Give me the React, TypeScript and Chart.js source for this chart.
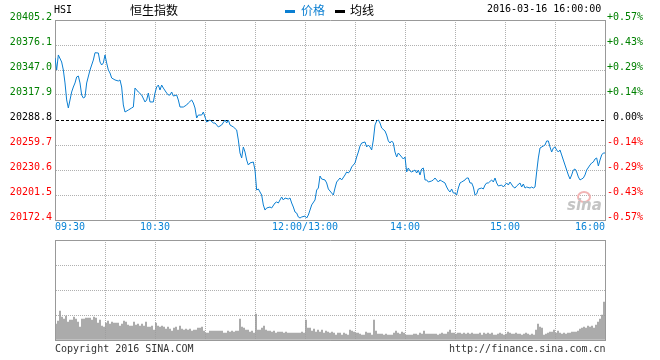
import React, { useEffect, useRef } from 'react';
import { Chart, registerables } from 'chart.js';

Chart.register(...registerables);

// ---------- data ----------
const prevClose = 20288.8;
const priceMin = 20172.4;
const priceMax = 20405.2;
const priceTicks = [20405.2, 20376.1, 20347.0, 20317.9, 20288.8, 20259.7, 20230.6, 20201.5, 20172.4];
const pctTickLabels = ['+0.57%', '+0.43%', '+0.29%', '+0.14%', '0.00%', '-0.14%', '-0.29%', '-0.43%', '-0.57%'];
const timeTickMinutes = [0, 60, 150, 210, 270, 330];
const timeTickLabels = ['09:30', '10:30', '12:00/13:00', '14:00', '15:00', '16:00'];
const gridMinutes = [0, 30, 60, 90, 120, 150, 180, 210, 240, 270, 300, 330];

// minutes since 09:30 (lunch break removed), and index value
const minutes = [
  0, 1, 2, 4, 5, 6, 7, 8, 9, 10, 11, 12, 13, 14, 15, 16, 17, 18, 19, 21, 22, 23, 24, 26, 27, 28, 29, 30,
  31, 32, 33, 34, 36, 38, 39, 40, 41, 42, 44, 46, 47, 48, 50, 52, 54, 55, 56, 57, 59, 60, 61, 62, 63, 64,
  65, 67, 68, 69, 70, 71, 73, 74, 75, 77, 79, 80, 82, 83, 84, 85, 86, 88, 89, 90, 91, 93, 95, 96, 98, 100,
  102, 103, 104, 105, 107, 109, 110, 111, 112, 113, 114, 115, 116, 117, 119, 120, 121, 122, 123, 124, 125,
  126, 127, 129, 130, 132, 133, 134, 136, 137, 138, 140, 141, 142, 143, 144, 145, 146, 147, 148, 150, 151,
  152, 153, 154, 156, 157, 158, 159, 160, 162, 163, 164, 166, 167, 168, 169, 171, 172, 174, 175, 176, 177,
  178, 180, 181, 182, 183, 184, 186, 187, 188, 189, 190, 191, 192, 193, 194, 195, 196, 198, 199, 200, 201,
  202, 203, 204, 205, 206, 208, 209, 210, 211, 212, 213, 214, 216, 217, 218, 219, 220, 221, 222, 223, 224,
  226, 227, 228, 230, 231, 232, 234, 235, 236, 237, 238, 239, 240, 241, 242, 243, 244, 246, 247, 248, 249,
  250, 251, 252, 253, 254, 256, 257, 258, 259, 260, 262, 263, 264, 265, 266, 268, 269, 271, 272, 273, 275,
  276, 277, 279, 280, 281, 282, 283, 285, 286, 287, 288, 289, 290, 291, 293, 294, 295, 296, 297, 298, 299,
  300, 301, 302, 303, 304, 305, 306, 307, 308, 309, 310, 311, 312, 313, 314, 315, 316, 317, 318, 319, 321,
  322, 323, 324, 325, 326, 327, 328, 329, 330,
];
const prices = [
  20361.0, 20347.0, 20364.5, 20356.3, 20347.0, 20331.9, 20312.1, 20302.8, 20312.1, 20321.4, 20327.2, 20331.9,
  20338.9, 20340.0, 20331.9, 20317.9, 20314.4, 20315.6, 20331.9, 20347.0, 20352.8, 20358.6, 20367.1, 20366.8,
  20356.3, 20352.8, 20355.2, 20364.5, 20355.2, 20347.0, 20343.5, 20337.7, 20335.4, 20334.2, 20335.4, 20327.2,
  20306.3, 20298.1, 20300.4, 20302.8, 20303.9, 20326.0, 20321.4, 20317.9, 20309.8, 20312.1, 20320.2, 20309.8,
  20309.8, 20320.2, 20327.2, 20329.5, 20323.7, 20329.5, 20326.0, 20320.2, 20317.9, 20317.9, 20321.4, 20316.7,
  20317.9, 20312.1, 20303.9, 20303.9, 20306.3, 20308.6, 20312.1, 20308.6, 20302.8, 20291.1, 20294.6, 20294.6,
  20298.1, 20292.3, 20286.5, 20288.8, 20285.3, 20285.3, 20280.7, 20283.0, 20288.8, 20285.3, 20288.8, 20283.0,
  20280.7, 20277.2, 20265.5, 20250.4, 20244.6, 20257.4, 20251.5, 20242.2, 20236.4, 20238.8, 20239.9, 20230.6,
  20207.3, 20208.5, 20205.0, 20201.5, 20189.9, 20184.0, 20186.4, 20187.5, 20186.4, 20192.2, 20193.4, 20192.2,
  20199.2, 20195.7, 20198.0, 20196.8, 20198.0, 20192.2, 20187.5, 20181.7, 20180.5, 20175.9, 20174.7, 20175.9,
  20177.0, 20174.7, 20178.2, 20184.0, 20189.9, 20195.7, 20207.3, 20209.6, 20223.6, 20220.1, 20219.0, 20215.5,
  20208.5, 20203.8, 20201.5, 20209.6, 20216.6, 20221.3, 20219.0, 20224.8, 20228.3, 20227.1, 20229.4, 20234.1,
  20238.8, 20245.7, 20251.5, 20258.5, 20262.0, 20263.2, 20257.4, 20259.7, 20257.4, 20253.9, 20265.5, 20283.0,
  20287.6, 20288.8, 20285.3, 20279.5, 20276.0, 20271.3, 20264.4, 20262.0, 20264.4, 20262.0, 20251.5, 20245.7,
  20250.4, 20245.7, 20243.4, 20245.7, 20228.3, 20232.9, 20229.4, 20228.3, 20230.6, 20227.1, 20230.6, 20224.8,
  20231.8, 20232.9, 20219.0, 20219.0, 20216.6, 20217.8, 20219.0, 20221.3, 20216.6, 20219.0, 20217.8, 20215.5,
  20210.8, 20207.3, 20205.0, 20208.5, 20203.8, 20203.8, 20201.5, 20209.6, 20215.5, 20216.6, 20219.0, 20221.3,
  20221.3, 20215.5, 20215.5, 20210.8, 20201.5, 20202.7, 20208.5, 20209.6, 20208.5, 20213.1, 20215.5, 20215.5,
  20219.0, 20216.6, 20221.3, 20215.5, 20212.0, 20213.1, 20210.8, 20215.5, 20213.1, 20216.6, 20210.8, 20209.6,
  20212.0, 20215.5, 20210.8, 20214.3, 20209.6, 20210.8, 20209.6, 20210.8, 20209.6, 20210.8, 20228.3, 20244.6,
  20256.2, 20258.5, 20259.7, 20264.4, 20264.4, 20257.4, 20251.5, 20256.2, 20257.4, 20253.9, 20251.5, 20253.9,
  20248.1, 20242.2, 20236.4, 20230.6, 20224.8, 20220.1, 20224.8, 20230.6, 20231.8, 20228.3, 20222.5, 20219.0,
  20220.1, 20221.3, 20224.8, 20230.6, 20236.4, 20238.8, 20239.9, 20243.4, 20244.6, 20235.3, 20242.2, 20248.1,
  20250.4, 20250.4,
];

// traded volume (relative units, axis 0..100), one bar per 2px bin across the session
const volumes = [
  16, 19, 29, 23, 21, 24, 18, 20, 20, 23, 21, 18, 13, 21, 21, 22, 22, 22, 20, 23, 22, 17, 20, 14, 13,
  17, 19, 16, 18, 17, 17, 17, 14, 16, 19, 18, 15, 14, 14, 18, 15, 16, 14, 16, 14, 18, 13, 13, 14, 10,
  17, 14, 13, 14, 13, 11, 13, 11, 9, 12, 13, 10, 14, 11, 10, 11, 10, 11, 9, 10, 10, 12, 12, 13, 9,
  7, 7, 9, 9, 9, 9, 9, 9, 9, 7, 7, 9, 8, 9, 8, 9, 9, 21, 13, 12, 10, 10, 8, 9, 7,
  26, 10, 10, 12, 14, 10, 9, 9, 8, 9, 7, 8, 8, 8, 7, 8, 7, 7, 7, 7, 7, 7, 7, 8, 7,
  20, 12, 12, 9, 11, 8, 10, 8, 10, 7, 9, 8, 7, 8, 7, 5, 7, 7, 5, 7, 6, 5, 10, 9, 8,
  7, 7, 6, 5, 5, 8, 7, 7, 5, 20, 9, 6, 6, 6, 5, 6, 5, 5, 5, 7, 9, 7, 6, 8, 7,
  5, 5, 5, 5, 6, 6, 5, 7, 6, 9, 6, 6, 6, 6, 6, 6, 5, 6, 7, 6, 6, 8, 10, 7, 7,
  6, 7, 7, 6, 7, 6, 7, 6, 7, 6, 6, 6, 7, 5, 7, 6, 7, 6, 7, 5, 5, 6, 7, 6, 5,
  6, 8, 7, 6, 6, 7, 6, 6, 5, 6, 7, 6, 5, 6, 5, 10, 16, 13, 12, 5, 6, 7, 8, 8, 10,
  7, 9, 7, 6, 7, 6, 7, 7, 8, 8, 8, 9, 11, 12, 13, 12, 14, 13, 14, 12, 15, 18, 21, 25, 38,
];
const volumeGrid = [0, 25, 50, 75, 100, 125, 150, 175, 200, 225, 250, 275];
const volumeTicks = [0, 25, 50, 75, 100];

// ---------- styles ----------
const LINE = '#0b7fd2';
const XLAB = '#0a84d6';
const GREEN = '#008000';
const RED = '#ff0000';
const GRID = '#b0b0b0';
const FRAME = '#999999';
const MONO = '"DejaVu Sans Mono", "Liberation Mono", monospace';
const CJK = '"Noto Sans CJK SC", "Noto Sans", sans-serif';

const near = (a: number, b: number) => Math.abs(a - b) < 1e-6;
const pct = (p: number) => ((p - prevClose) / prevClose) * 100;

export default function App() {
  const priceRef = useRef<HTMLCanvasElement | null>(null);
  const volRef = useRef<HTMLCanvasElement | null>(null);

  useEffect(() => {
    const tickFont = { family: MONO, size: 10 };
    const colorByPrice = (v: number) => (near(v, prevClose) ? '#000000' : v > prevClose ? GREEN : RED);

    const priceChart = new Chart(priceRef.current as HTMLCanvasElement, {
      type: 'line',
      data: {
        datasets: [
          {
            data: minutes.map((m, i) => ({ x: m, y: prices[i] })),
            borderColor: LINE,
            borderWidth: 1,
            pointRadius: 0,
            tension: 0,
            fill: false,
          },
        ],
      },
      options: {
        responsive: false,
        animation: false,
        devicePixelRatio: 1,
        layout: { padding: { top: 20, left: 0, right: 17, bottom: 0 } },
        plugins: { legend: { display: false }, tooltip: { enabled: false } },
        scales: {
          x: {
            type: 'linear',
            min: 0,
            max: 330,
            afterBuildTicks: (s: any) => {
              s.ticks = gridMinutes.map((v) => ({ value: v }));
            },
            afterFit: (s: any) => {
              s.height = 20;
            },
            ticks: {
              autoSkip: false,
              maxRotation: 0,
              minRotation: 0,
              align: 'inner',
              padding: 1,
              color: XLAB,
              font: tickFont,
              callback: (v: any) => {
                const k = timeTickMinutes.indexOf(Number(v));
                return k >= 0 ? timeTickLabels[k] : '';
              },
            },
            grid: { color: GRID, drawTicks: false, lineWidth: 1 },
            border: { display: true, color: FRAME, width: 1, dash: [1, 1] },
          },
          y: {
            position: 'left',
            min: priceMin,
            max: priceMax,
            afterBuildTicks: (s: any) => {
              s.ticks = [...priceTicks].reverse().map((v) => ({ value: v }));
            },
            afterFit: (s: any) => {
              s.width = 55;
            },
            ticks: {
              autoSkip: false,
              padding: 3,
              labelOffset: -3,
              font: tickFont,
              color: (c: any) => colorByPrice(c.tick ? c.tick.value : prevClose),
              callback: (v: any) => Number(v).toFixed(1),
            },
            grid: {
              drawTicks: false,
              lineWidth: 1,
              color: (c: any) => {
                const v = c.tick ? c.tick.value : 0;
                if (near(v, prevClose)) return '#000000';
                if (near(v, priceMax)) return FRAME;
                return GRID;
              },
            },
            border: {
              display: true,
              color: FRAME,
              width: 1,
              dash: (c: any) => {
                if (!c.tick) return [];
                const v = c.tick.value;
                if (near(v, prevClose)) return [3, 2];
                if (near(v, priceMax)) return [];
                return [1, 1];
              },
            },
          },
          y2: {
            position: 'right',
            min: pct(priceMin),
            max: pct(priceMax),
            afterBuildTicks: (s: any) => {
              s.ticks = [...priceTicks].reverse().map((p) => ({ value: pct(p) }));
            },
            afterFit: (s: any) => {
              s.width = 38;
            },
            ticks: {
              autoSkip: false,
              padding: 2,
              labelOffset: -3,
              crossAlign: 'far',
              font: tickFont,
              color: (c: any) => {
                const v = c.tick ? c.tick.value : 0;
                return Math.abs(v) < 1e-6 ? '#000000' : v > 0 ? GREEN : RED;
              },
              callback: (v: any) => {
                const k = priceTicks.findIndex((p) => Math.abs(pct(p) - Number(v)) < 1e-6);
                return k >= 0 ? pctTickLabels[k] : '';
              },
            },
            grid: { drawOnChartArea: false, drawTicks: false },
            border: { display: true, color: FRAME, width: 1 },
          },
        },
      },
    } as any);

    const volChart = new Chart(volRef.current as HTMLCanvasElement, {
      type: 'bar',
      data: {
        datasets: [
          {
            data: volumes.map((v, i) => ({ x: i + 0.5, y: v })),
            backgroundColor: '#9a9a9a',
            borderWidth: 0,
            barThickness: 1,
          },
        ],
      },
      options: {
        responsive: false,
        animation: false,
        devicePixelRatio: 1,
        layout: { padding: { top: 2, bottom: 2, left: 0, right: 0 } },
        plugins: { legend: { display: false }, tooltip: { enabled: false } },
        scales: {
          x: {
            type: 'linear',
            min: 0,
            max: volumes.length,
            offset: false,
            afterBuildTicks: (s: any) => {
              s.ticks = volumeGrid.map((v) => ({ value: v }));
            },
            afterFit: (s: any) => {
              s.height = 0;
            },
            ticks: { display: false },
            grid: { color: GRID, drawTicks: false, offset: false, lineWidth: 1 },
            border: { display: true, color: FRAME, width: 1, dash: [1, 1] },
          },
          y: {
            position: 'left',
            min: 0,
            max: 100,
            afterBuildTicks: (s: any) => {
              s.ticks = volumeTicks.map((v) => ({ value: v }));
            },
            afterFit: (s: any) => {
              s.width = 55;
            },
            ticks: { display: false },
            grid: {
              drawTicks: false,
              lineWidth: 1,
              color: (c: any) => (c.tick && near(c.tick.value, 100) ? FRAME : GRID),
            },
            border: {
              display: true,
              color: FRAME,
              width: 1,
              dash: (c: any) => (!c.tick || near(c.tick.value, 100) ? [] : [1, 1]),
            },
          },
          y2: {
            position: 'right',
            min: 0,
            max: 100,
            afterFit: (s: any) => {
              s.width = 55;
            },
            ticks: { display: false },
            grid: { drawOnChartArea: false, drawTicks: false },
            border: { display: true, color: FRAME, width: 1 },
          },
        },
      },
    } as any);

    return () => {
      priceChart.destroy();
      volChart.destroy();
    };
  }, []);

  const mono: React.CSSProperties = {
    position: 'absolute',
    fontFamily: MONO,
    fontSize: 10,
    lineHeight: '12px',
    whiteSpace: 'nowrap',
    color: '#000',
  };
  const cjk: React.CSSProperties = {
    position: 'absolute',
    fontFamily: CJK,
    fontSize: 12,
    lineHeight: '14px',
    whiteSpace: 'nowrap',
  };

  return (
    <div
      style={{
        position: 'absolute',
        left: 0,
        top: 0,
        width: 660,
        height: 360,
        overflow: 'hidden',
        background: '#ffffff',
      }}
    >
      <canvas ref={priceRef} width={660} height={240} style={{ position: 'absolute', left: 0, top: 0 }} />
      <canvas ref={volRef} width={660} height={104} style={{ position: 'absolute', left: 0, top: 238 }} />

      <div style={{ ...mono, left: 54, top: 4 }}>HSI</div>
      <div style={{ ...cjk, left: 130, top: 3, color: '#000' }}>恒生指数</div>
      <div style={{ position: 'absolute', left: 285, top: 10, width: 10, height: 3, background: LINE }} />
      <div style={{ ...cjk, left: 301, top: 3, color: LINE }}>价格</div>
      <div style={{ position: 'absolute', left: 335, top: 10, width: 10, height: 3, background: '#000' }} />
      <div style={{ ...cjk, left: 350, top: 3, color: '#000' }}>均线</div>
      <div style={{ ...mono, left: 487, top: 3 }}>2016-03-16 16:00:00</div>

      <div
        style={{
          position: 'absolute',
          left: 577,
          top: 191,
          width: 10,
          height: 8,
          borderRadius: '50%',
          border: '2px solid #f2b4b4',
        }}
      />
      <div
        style={{
          position: 'absolute',
          left: 567,
          top: 197,
          fontFamily: '"DejaVu Sans", sans-serif',
          fontSize: 15,
          fontWeight: 'bold',
          fontStyle: 'italic',
          lineHeight: '16px',
          color: '#c4c4c4',
        }}
      >
        sina
      </div>

      <div style={{ ...mono, left: 55, top: 343, color: '#333' }}>Copyright 2016 SINA.COM</div>
      <div style={{ ...mono, left: 449, top: 343, color: '#333' }}>http://finance.sina.com.cn</div>
    </div>
  );
}
